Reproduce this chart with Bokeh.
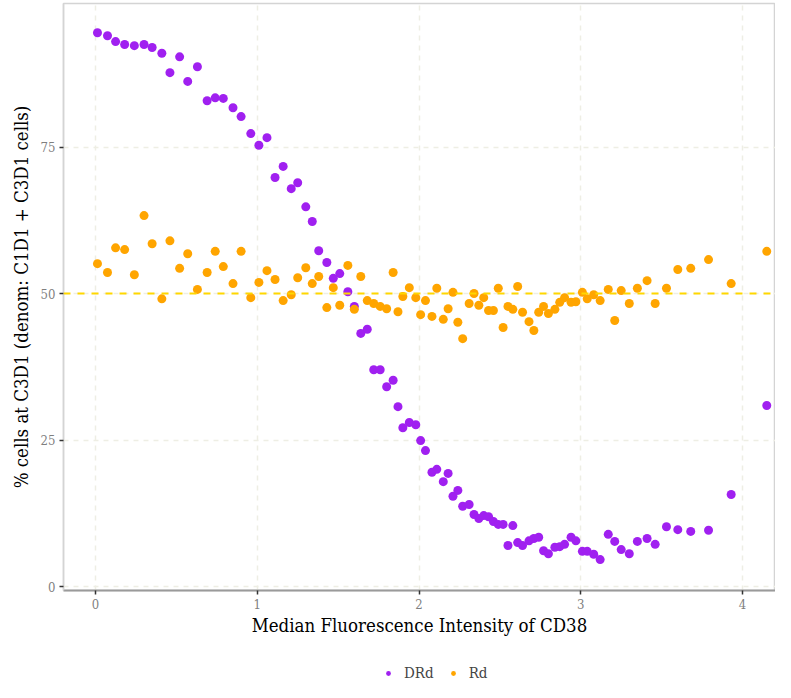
from bokeh.plotting import figure
from bokeh.layouts import column
from bokeh.models import Span, Legend, LegendItem, ColumnDataSource, FixedTicker, Range1d
from bokeh.embed import file_html
from bokeh.resources import INLINE

# Median fluorescence intensity of CD38 (shared bins)
mfi = [0.012, 0.074, 0.124, 0.18, 0.24, 0.30, 0.35, 0.41, 0.46, 0.52,
       0.57, 0.63, 0.69, 0.74, 0.79, 0.85, 0.90, 0.96, 1.01, 1.06,
       1.11, 1.16, 1.21, 1.25, 1.30, 1.34, 1.38, 1.43, 1.47, 1.51,
       1.56, 1.60, 1.64, 1.68, 1.72, 1.76, 1.80, 1.84, 1.87, 1.90,
       1.94, 1.98, 2.01, 2.04, 2.08, 2.11, 2.15, 2.18, 2.21, 2.24,
       2.27, 2.31, 2.34, 2.37, 2.40, 2.43, 2.46, 2.49, 2.52, 2.55,
       2.58, 2.61, 2.64, 2.68, 2.71, 2.74, 2.77, 2.80, 2.84, 2.87,
       2.90, 2.94, 2.97, 3.01, 3.04, 3.08, 3.12, 3.17, 3.21, 3.25,
       3.30, 3.35, 3.41, 3.46, 3.53, 3.60, 3.68, 3.79, 3.93, 4.15]

drd = [94.5, 94.0, 93.0, 92.5, 92.3, 92.5, 92.0, 91.0, 87.7, 90.4,
       86.2, 88.7, 82.9, 83.4, 83.3, 81.7, 80.2, 77.3, 75.3, 76.6,
       69.8, 71.7, 67.9, 68.9, 64.8, 62.3, 57.3, 55.3, 52.6, 53.4,
       50.3, 47.8, 43.2, 43.9, 37.0, 37.0, 34.1, 35.2, 30.7, 27.1,
       28.0, 27.6, 24.9, 23.2, 19.5, 20.0, 17.9, 19.3, 15.4, 16.4,
       13.7, 14.0, 12.3, 11.6, 12.1, 11.9, 11.1, 10.6, 10.6, 7.0,
       10.4, 7.5, 7.0, 7.8, 8.2, 8.4, 6.1, 5.6, 6.7, 6.8,
       7.2, 8.4, 7.8, 6.0, 6.0, 5.5, 4.6, 8.9, 7.7, 6.3,
       5.6, 7.7, 8.2, 7.2, 10.2, 9.7, 9.4, 9.6, 15.7, 30.9]

rd = [55.1, 53.6, 57.8, 57.5, 53.2, 63.3, 58.5, 49.1, 59.0, 54.3,
      56.8, 50.7, 53.6, 57.2, 54.6, 51.7, 57.2, 49.3, 51.9, 53.9,
      52.4, 48.8, 49.8, 52.7, 54.4, 51.7, 52.9, 47.6, 51.0, 48.0,
      54.8, 47.3, 52.9, 48.8, 48.3, 47.8, 47.4, 53.6, 46.9, 49.5,
      51.0, 49.3, 46.4, 48.8, 46.1, 50.9, 45.6, 47.4, 50.2, 45.1,
      42.3, 48.3, 50.0, 48.0, 49.3, 47.1, 47.1, 50.9, 44.2, 47.8,
      47.3, 51.2, 46.8, 45.2, 43.7, 46.8, 47.8, 46.6, 47.3, 48.5,
      49.3, 48.5, 48.6, 50.2, 49.1, 49.8, 48.8, 50.7, 45.4, 50.5,
      48.3, 50.9, 52.2, 48.3, 50.9, 54.1, 54.3, 55.8, 51.7, 57.2]

groups = ["DRd", "Rd"]
colors = ["#A020F0", "#FFA500"]
y_ticks = [0, 25, 50, 75]
x_ticks = [0, 1, 2, 3, 4]
ref_level = 50

FONT = "DejaVu Serif Condensed"

src_drd = ColumnDataSource(dict(x=mfi, y=drd))
src_rd = ColumnDataSource(dict(x=mfi, y=rd))

p = figure(width=775, height=650, output_backend="svg", toolbar_location=None,
           x_range=Range1d(-0.198, 4.204), y_range=Range1d(-0.68, 99.5),
           min_border_left=63, min_border_right=0, min_border_top=3, min_border_bottom=60)

p.background_fill_color = "white"
p.border_fill_color = "white"
p.outline_line_color = "#D4D4D4"
p.outline_line_width = 1.5

# grid
for g in (p.xgrid, p.ygrid):
    g.grid_line_color = "#EEEEE4"
    g.grid_line_dash = "5 5"
    g.grid_line_width = 1.5
p.xgrid.ticker = FixedTicker(ticks=x_ticks)
p.ygrid.ticker = FixedTicker(ticks=y_ticks)

r1 = p.scatter("x", "y", source=src_drd, size=9, fill_color=colors[0], line_color=None)
r2 = p.scatter("x", "y", source=src_rd, size=9, fill_color=colors[1], line_color=None)

p.add_layout(Span(location=ref_level, dimension="width", line_color="#FFD700",
                  line_dash="7 7", line_width=2))

# axes
p.xaxis.ticker = FixedTicker(ticks=x_ticks)
p.yaxis.ticker = FixedTicker(ticks=y_ticks)
for ax in (p.xaxis[0], p.yaxis[0]):
    ax.major_tick_line_color = "#333333"
    ax.major_tick_line_width = 1.5
    ax.major_tick_out = 4
    ax.major_tick_in = 0
    ax.minor_tick_line_color = None
    ax.major_label_text_font = FONT
    ax.major_label_text_font_size = "13px"
    ax.major_label_text_color = "#7F7F7F"
    ax.axis_label_text_font = FONT
    ax.axis_label_text_font_size = "18.5px"
    ax.axis_label_text_font_style = "normal"
    ax.axis_label_text_color = "black"
p.xaxis.axis_line_color = "#9A9A9A"
p.xaxis.axis_line_width = 2
p.yaxis.axis_line_color = "#D4D4D4"
p.yaxis.axis_line_width = 1.5
p.xaxis.axis_label = "Median Fluorescence Intensity of CD38"
p.yaxis.axis_label = "% cells at C3D1 (denom: C1D1 + C3D1 cells)"
p.xaxis.major_label_standoff = 4
p.yaxis.major_label_standoff = 4
p.xaxis.axis_label_standoff = 3
p.yaxis.axis_label_standoff = 6

# legend strip below the plot
lg = figure(width=775, height=32, output_backend="svg", toolbar_location=None,
            x_range=Range1d(100, 101), y_range=Range1d(100, 101),
            x_axis_location=None, y_axis_location=None,
            min_border_left=0, min_border_right=0, min_border_top=0, min_border_bottom=0)
lg.outline_line_color = None
lg.xgrid.visible = False
lg.ygrid.visible = False
lr1 = lg.scatter("x", "y", source=src_drd, size=9, fill_color=colors[0], line_color=None)
lr2 = lg.scatter("x", "y", source=src_rd, size=9, fill_color=colors[1], line_color=None)

legend = Legend(items=[LegendItem(label=groups[0], renderers=[lr1]),
                       LegendItem(label=groups[1], renderers=[lr2])],
                orientation="horizontal", location=(318, 0))
legend.border_line_color = None
legend.background_fill_alpha = 0
legend.label_text_font = FONT
legend.label_text_font_size = "15px"
legend.glyph_width = 14
legend.glyph_height = 12
legend.spacing = 12
legend.label_standoff = 9
legend.margin = 0
legend.padding = 1
lg.add_layout(legend, "center")

layout = column(p, lg, spacing=0)
open("out.html", "w").write(file_html(layout, INLINE))
